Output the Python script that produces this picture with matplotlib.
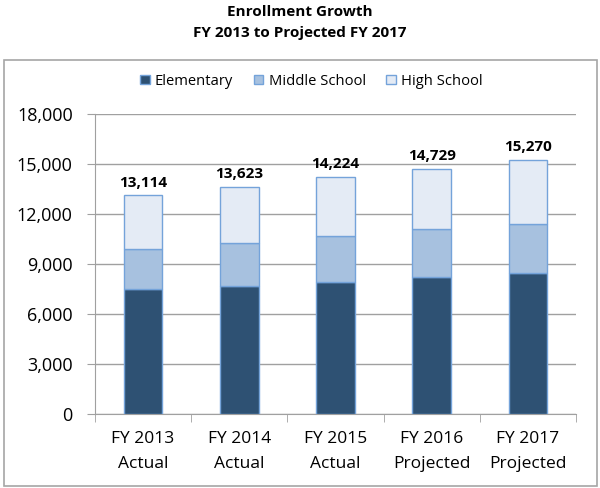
import matplotlib.pyplot as plt
from matplotlib.patches import Rectangle
import numpy as np

plt.rcParams['font.family'] = ['Open Sans', 'DejaVu Sans']

# Datos
categorias = ['FY 2013\nActual', 'FY 2014\nActual', 'FY 2015\nActual',
              'FY 2016\nProjected', 'FY 2017\nProjected']
elementary = [7480, 7660, 7900, 8220, 8480]
middle = [2440, 2600, 2760, 2860, 2920]
totales = [13114, 13623, 14224, 14729, 15270]
high = [t - e - m for t, e, m in zip(totales, elementary, middle)]

fig = plt.figure(figsize=(6.0, 4.88), dpi=100)

# Marco exterior del grafico
fig.patches.append(Rectangle((4 / 600, 1 - 486 / 488), 593 / 600, 426 / 488,
                             transform=fig.transFigure, fill=False,
                             edgecolor='#a6a6a6', linewidth=1.2))

fig.text(0.5, 1 - 12 / 488, 'Enrollment Growth', ha='center', va='center',
         fontsize=11, fontweight='bold')
fig.text(0.5, 1 - 33 / 488, 'FY 2013 to Projected FY 2017', ha='center', va='center',
         fontsize=11, fontweight='bold')

ax = fig.add_axes([95 / 600, 1 - 414 / 488, 481 / 600, 300 / 488])

x = np.arange(len(categorias))
ancho = 0.4
borde = '#74a3da'
ax.bar(x, elementary, ancho, color='#2e5173', edgecolor=borde, linewidth=1,
       label='Elementary', zorder=3)
ax.bar(x, middle, ancho, bottom=elementary, color='#a7c1df', edgecolor=borde,
       linewidth=1, label='Middle School', zorder=3)
bottom_high = [e + m for e, m in zip(elementary, middle)]
ax.bar(x, high, ancho, bottom=bottom_high, color='#e4ebf5', edgecolor=borde,
       linewidth=1, label='High School', zorder=3)

for xi, t in zip(x, totales):
    ax.text(xi, t + 350, f'{t:,}', ha='center', va='bottom', fontsize=11,
            fontweight='bold')

ax.set_xlim(-0.5, len(categorias) - 0.5)
ax.set_ylim(0, 18000)
ax.set_yticks(range(0, 18001, 3000))
ax.set_yticklabels([f'{v:,}' for v in range(0, 18001, 3000)], fontsize=13)
ax.set_xticks(x)
ax.set_xticklabels(categorias, fontsize=12.5, linespacing=1.75)
ax.set_xticks(np.arange(-0.5, len(categorias)), minor=True)
ax.tick_params(axis='x', which='major', length=0, pad=12)
ax.tick_params(axis='x', which='minor', length=6, color='#a0a0a0')
ax.tick_params(axis='y', length=6, color='#a0a0a0', pad=10)

ax.grid(axis='y', color='#a0a0a0', linewidth=1, zorder=0)
for lado in ['top', 'right']:
    ax.spines[lado].set_visible(False)
for lado in ['left', 'bottom']:
    ax.spines[lado].set_color('#a0a0a0')

ax.legend(loc='lower center', bbox_to_anchor=(0.45, 1.04), ncol=3, frameon=False,
          fontsize=10.6, handlelength=0.65, handleheight=0.65, handletextpad=0.35,
          columnspacing=1.4)

plt.savefig('out.png', dpi=100)
